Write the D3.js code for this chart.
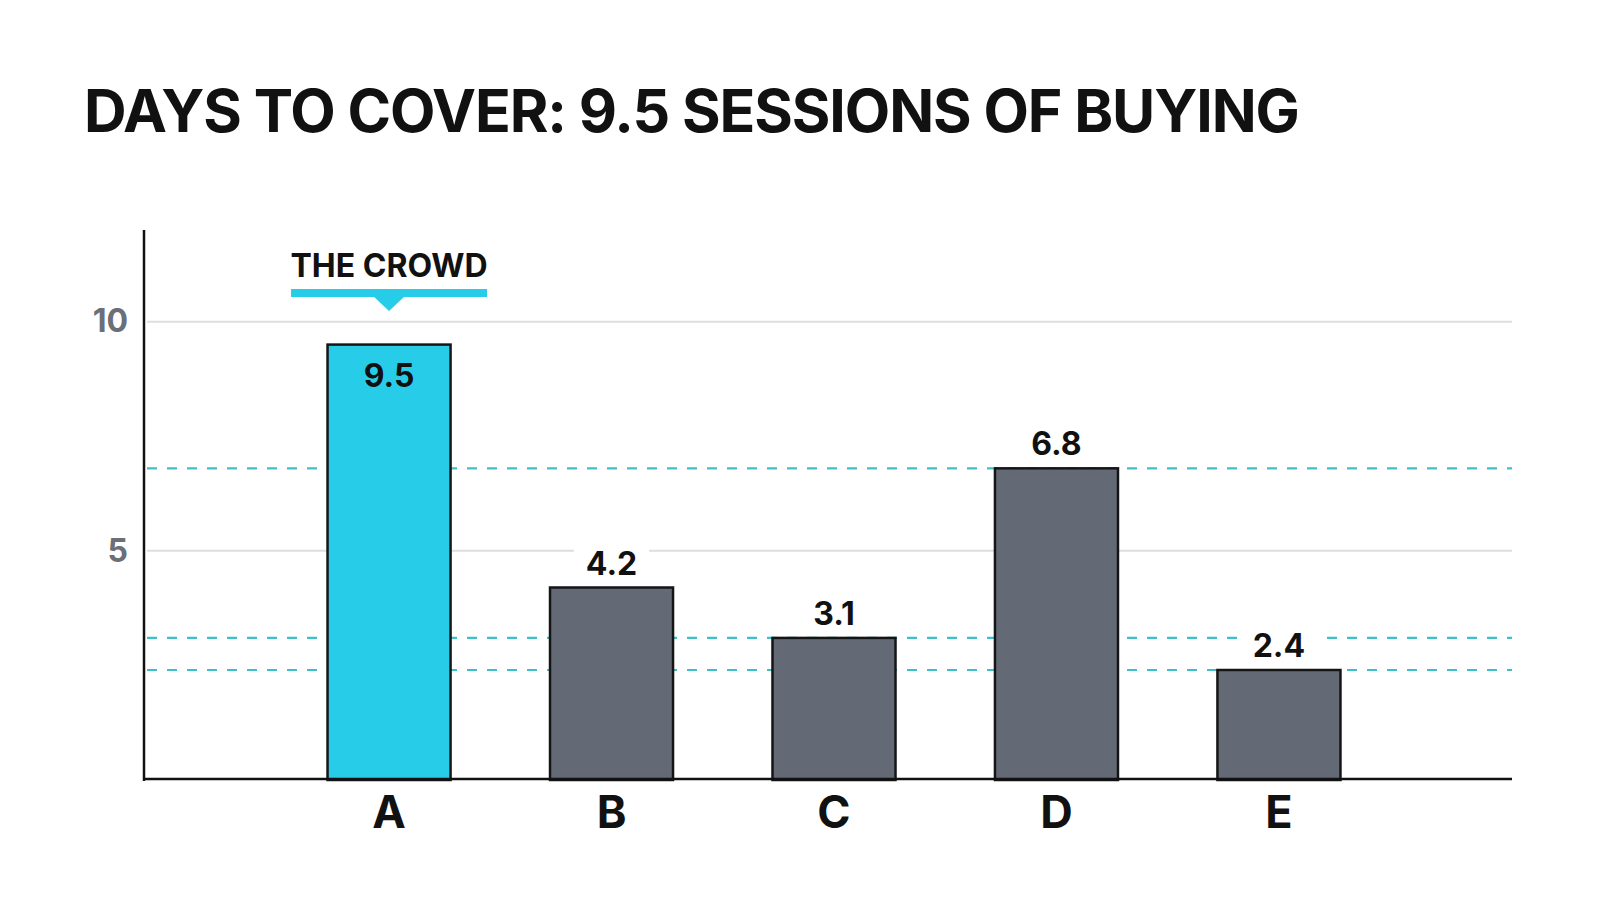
<!DOCTYPE html>
<html lang="en">
<head>
    <meta charset="utf-8">
    <title>Days to cover</title>
    <script src="https://cdn.jsdelivr.net/npm/d3@7/dist/d3.min.js"></script>
    <style type="text/css">
        body { margin: 0; background: #fff; }
        svg { display: block; font-family: Inter, "Noto Sans", sans-serif; }
    </style>
</head>
<body>
<script type="text/javascript">
// data
var categories = ["A", "B", "C", "D", "E"];
var values = [9.5, 4.2, 3.1, 6.8, 2.4];
var yTicks = [5, 10];
var refLevels = [6.8, 3.1, 2.4];     // dashed reference lines
var highlight = "A";
var calloutText = "THE CROWD";
var titleText = "DAYS TO COVER: 9.5 SESSIONS OF BUYING";

var W = 1600, H = 914;
var plotL = 144, plotR = 1512, plotT = 230, plotB = 780;

var svg = d3.select("body").append("svg")
    .attr("width", W)
    .attr("height", H);

var x = d3.scaleBand()
    .domain(categories)
    .range([plotL + 10, plotR + 2])
    .paddingInner(0.447)
    .paddingOuter(0.78);

var y = d3.scaleLinear().domain([0, 12]).range([plotB, plotT]);

var data = categories.map(function(c, i){ return {cat: c, val: values[i]}; });

// title
svg.append("text")
    .attr("x", 84).attr("y", 132)
    .attr("font-size", 59).attr("font-weight", 700)
    .attr("letter-spacing", -1.1)
    .attr("fill", "#111")
    .text(titleText);

// grid lines
svg.append("g").selectAll("line")
    .data(yTicks).enter().append("line")
    .attr("x1", plotL + 3).attr("x2", plotR)
    .attr("y1", function(d){ return y(d); })
    .attr("y2", function(d){ return y(d); })
    .attr("stroke", "#dedede").attr("stroke-width", 2);

// dashed reference levels
svg.append("g").selectAll("line")
    .data(refLevels).enter().append("line")
    .attr("x1", plotL + 3).attr("x2", plotR)
    .attr("y1", function(d){ return y(d); })
    .attr("y2", function(d){ return y(d); })
    .attr("stroke", "#3fc0c6").attr("stroke-width", 2.2)
    .attr("stroke-dasharray", "10,10");

// y tick labels
var yAxis = svg.append("g")
    .attr("transform", "translate(" + (plotL - 16) + ",0)")
    .call(d3.axisLeft(y).tickValues(yTicks).tickSize(0).tickPadding(0));
yAxis.select(".domain").remove();
yAxis.selectAll("text")
    .attr("font-size", 32).attr("font-weight", 700)
    .attr("fill", "#6b6f78")
    .attr("font-family", "Inter, sans-serif");

// value labels above bars (with white knock-out behind)
var outside = data.filter(function(d){ return d.cat !== highlight; });
var lblG = svg.append("g");
var lbls = lblG.selectAll("text")
    .data(outside).enter().append("text")
    .attr("x", function(d){ return x(d.cat) + x.bandwidth() / 2; })
    .attr("y", function(d){ return y(d.val) - 13; })
    .attr("text-anchor", "middle")
    .attr("font-size", 32).attr("font-weight", 700)
    .attr("fill", "#111")
    .text(function(d){ return d.val.toFixed(1); });
lbls.each(function(){
    var b = this.getBBox();
    lblG.insert("rect", "text")
        .attr("x", b.x - 12).attr("y", b.y - 2)
        .attr("width", b.width + 24).attr("height", b.height + 4)
        .attr("fill", "#fff");
});

// bars
svg.append("g").selectAll("rect")
    .data(data).enter().append("rect")
    .attr("x", function(d){ return x(d.cat); })
    .attr("y", function(d){ return y(d.val); })
    .attr("width", x.bandwidth())
    .attr("height", function(d){ return y(0) - y(d.val); })
    .attr("fill", function(d){ return d.cat === highlight ? "#27cde8" : "#636a76"; })
    .attr("stroke", "#151515").attr("stroke-width", 2.5);

// highlighted value inside its bar
var hi = data.filter(function(d){ return d.cat === highlight; });
svg.append("g").selectAll("text")
    .data(hi).enter().append("text")
    .attr("x", function(d){ return x(d.cat) + x.bandwidth() / 2; })
    .attr("y", function(d){ return y(d.val) + 42; })
    .attr("text-anchor", "middle")
    .attr("font-size", 32).attr("font-weight", 700)
    .attr("fill", "#111")
    .text(function(d){ return d.val.toFixed(1); });

// callout above highlighted bar
var cx = x(highlight) + x.bandwidth() / 2;
svg.append("text")
    .attr("x", cx).attr("y", 277)
    .attr("text-anchor", "middle")
    .attr("font-size", 32).attr("font-weight", 700)
    .attr("fill", "#111")
    .text(calloutText);
svg.append("rect")
    .attr("x", cx - 98).attr("y", 289)
    .attr("width", 196).attr("height", 8)
    .attr("fill", "#27cde8");
svg.append("path")
    .attr("d", "M" + (cx - 16) + ",296L" + (cx + 16) + ",296L" + cx + ",311Z")
    .attr("fill", "#27cde8");

// axes lines
svg.append("line")
    .attr("x1", plotL).attr("x2", plotL)
    .attr("y1", plotT).attr("y2", plotB + 1)
    .attr("stroke", "#111").attr("stroke-width", 2.5);
svg.append("line")
    .attr("x1", plotL - 1).attr("x2", plotR)
    .attr("y1", plotB - 1).attr("y2", plotB - 1)
    .attr("stroke", "#111").attr("stroke-width", 2.5);

// category labels
var xAxis = svg.append("g")
    .attr("transform", "translate(0," + plotB + ")")
    .call(d3.axisBottom(x).tickSize(0).tickPadding(16));
xAxis.select(".domain").remove();
xAxis.selectAll("text")
    .attr("font-size", 45).attr("font-weight", 700)
    .attr("fill", "#111")
    .attr("font-family", "Inter, sans-serif");
</script>
</body>
</html>
